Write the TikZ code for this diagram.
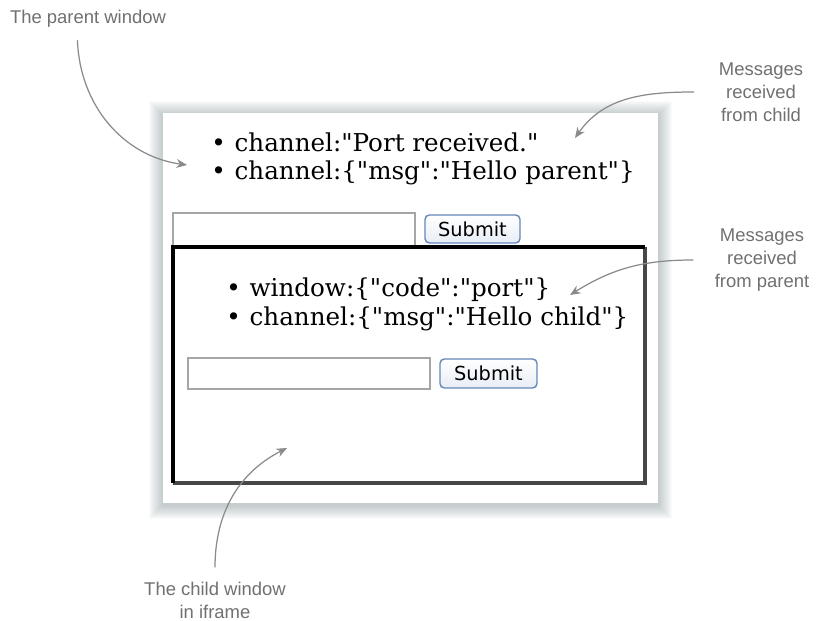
\documentclass[tikz,border=0pt]{standalone}
\usepackage{fontspec}
\setsansfont{Liberation Sans}
\newfontfamily\pagefont{DejaVu Serif}
\newfontfamily\uifont{DejaVu Sans}
\usetikzlibrary{arrows.meta,positioning}

\definecolor{notegray}{RGB}{112,112,112}
\definecolor{arrowgray}{RGB}{138,138,138}
\definecolor{shadowgray}{RGB}{95,115,120}
\definecolor{btnedge}{RGB}{100,135,185}
\definecolor{btnfill}{RGB}{232,237,245}

\tikzset{
  note/.style={font=\sffamily\fontsize{10.5}{13}\selectfont, text=notegray, align=center, inner sep=0pt},
  pointer/.style={draw=arrowgray, line width=0.7pt, -{Stealth[length=6pt,width=5pt]}},
  msgline/.style={font=\pagefont\fontsize{14}{16}\selectfont, anchor=base west, inner sep=0pt},
  field/.style={draw=black!35, fill=white, line width=0.6pt},
  button/.style={draw=btnedge, line width=0.8pt, rounded corners=2.5pt, top color=white, bottom color=btnfill},
  buttontext/.style={font=\uifont\fontsize{11}{12}\selectfont, inner sep=0pt}
}

\begin{document}
\begin{tikzpicture}[x=0.02cm, y=0.02cm]
        \useasboundingbox (0,0) rectangle (816,-621);

        % Schatten und Elternfenster
        \foreach \i in {1,...,14}
            \fill[shadowgray, opacity=0.03] (163-\i,-113+\i-2) rectangle (658+\i,-503-\i-2);
        \fill[white] (163,-113) rectangle (658,-503);

        % Nachrichten im Elternfenster
        \node[msgline] (parentMsgA) at (211,-152) {\textbullet\hspace{5pt}channel:"Port received."};
        \node[msgline] (parentMsgB) at (211,-180) {\textbullet\hspace{5pt}channel:\{"msg":"Hello parent"\}};

        % Eingabe im Elternfenster
        \draw[field] (173,-213) rectangle (415,-247);
        \draw[button] (425,-215) rectangle (520,-243);
        \node[buttontext] (parentSubmit) at (472.5,-229) {Submit};

        % iframe
        \draw[line width=1.9pt, black!72] (173,-483) -- (645,-483) -- (645,-247);
        \draw[line width=1.9pt, black] (173,-483) -- (173,-247) -- (645,-247);

        % Nachrichten im Kindfenster
        \node[msgline] (childMsgA) at (226,-297) {\textbullet\hspace{5pt}window:\{"code":"port"\}};
        \node[msgline] (childMsgB) at (226,-326) {\textbullet\hspace{5pt}channel:\{"msg":"Hello child"\}};

        % Eingabe im Kindfenster
        \draw[field] (188,-358) rectangle (430,-389);
        \draw[button] (440,-359) rectangle (537,-388);
        \node[buttontext] (childSubmit) at (488.5,-373.5) {Submit};

        % Beschriftungen
        \node[note] (parentNote) at (88,-19) {The parent window};
        \node[note] (fromChildNote) at (761,-92) {Messages\\received\\from child};
        \node[note] (fromParentNote) at (762,-260) {Messages\\received\\from parent};
        \node[note] (iframeNote) at (215,-600) {The child window\\in iframe};

        % Pfeile
        \coordinate (parentTip) at (187,-165);
        \coordinate (fromChildTip) at (575,-138);
        \coordinate (fromParentTip) at (570,-295);
        \coordinate (iframeTip) at (287,-448);
        \draw[pointer] ([xshift=-6pt,yshift=-7pt]parentNote.south) to[out=-88, in=172] (parentTip);
        \draw[pointer] ([xshift=-14pt]fromChildNote.west) to[out=180, in=55] (fromChildTip);
        \draw[pointer] ([xshift=-12pt]fromParentNote.west) to[out=180, in=32] (fromParentTip);
        \draw[pointer] ([yshift=8pt]iframeNote.north) to[out=90, in=207] (iframeTip);

    \end{tikzpicture}
\end{document}
